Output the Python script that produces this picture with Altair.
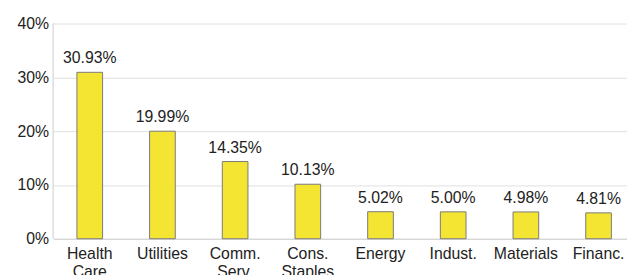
import altair as alt
import pandas as pd

categories = ["Health Care", "Utilities", "Comm. Serv.", "Cons. Staples",
              "Energy", "Indust.", "Materials", "Financ."]
values = [30.93, 19.99, 14.35, 10.13, 5.02, 5.00, 4.98, 4.81]
y_ticks = [0, 10, 20, 30, 40]

df = pd.DataFrame({"cat": categories, "val": values})
df["lbl"] = [f"{v:.2f}%" for v in values]

FONT = "Liberation Sans"

x = alt.X("cat:N", sort=categories, title=None,
          scale=alt.Scale(range=[0, 589], paddingInner=0, paddingOuter=0),
          axis=alt.Axis(labelAngle=0, labelFontSize=16, labelFont=FONT,
                        labelColor="#222", labelPadding=7, ticks=False,
                        domainColor="#d0d0d0", labelExpr="split(datum.label, ' ')",
                        labelLineHeight=18, labelBaseline="top"))
y = alt.Y("val:Q", title=None,
          scale=alt.Scale(domain=[0, 40], nice=False),
          axis=alt.Axis(values=y_ticks, labelExpr="datum.value + '%'",
                        labelFontSize=16, labelFont=FONT, labelColor="#222",
                        ticks=False, domain=False, gridColor="#e0e0e0",
                        labelPadding=5))

bars = alt.Chart(df).mark_bar(size=26, color="#f4e533", stroke="#7a7a7a",
                              strokeWidth=1).encode(x=x, y=y)
text = alt.Chart(df).mark_text(dy=-6, baseline="bottom", fontSize=16,
                               font=FONT, color="#222").encode(
    x=alt.X("cat:N", sort=categories), y="val:Q", text="lbl:N")

left = alt.Chart(df).mark_rule(color="#e0e0e0").encode(
    x=alt.value(0), y=alt.value(0), y2=alt.value(218))

chart = (left + bars + text).properties(
    width=581, height=218,
    autosize=alt.AutoSizeParams(type="none"),
    padding={"left": 46, "top": 14, "right": 0, "bottom": 35},
).configure_view(stroke=None)

chart.save("out.html", embed_options={"renderer": "svg", "actions": False})
